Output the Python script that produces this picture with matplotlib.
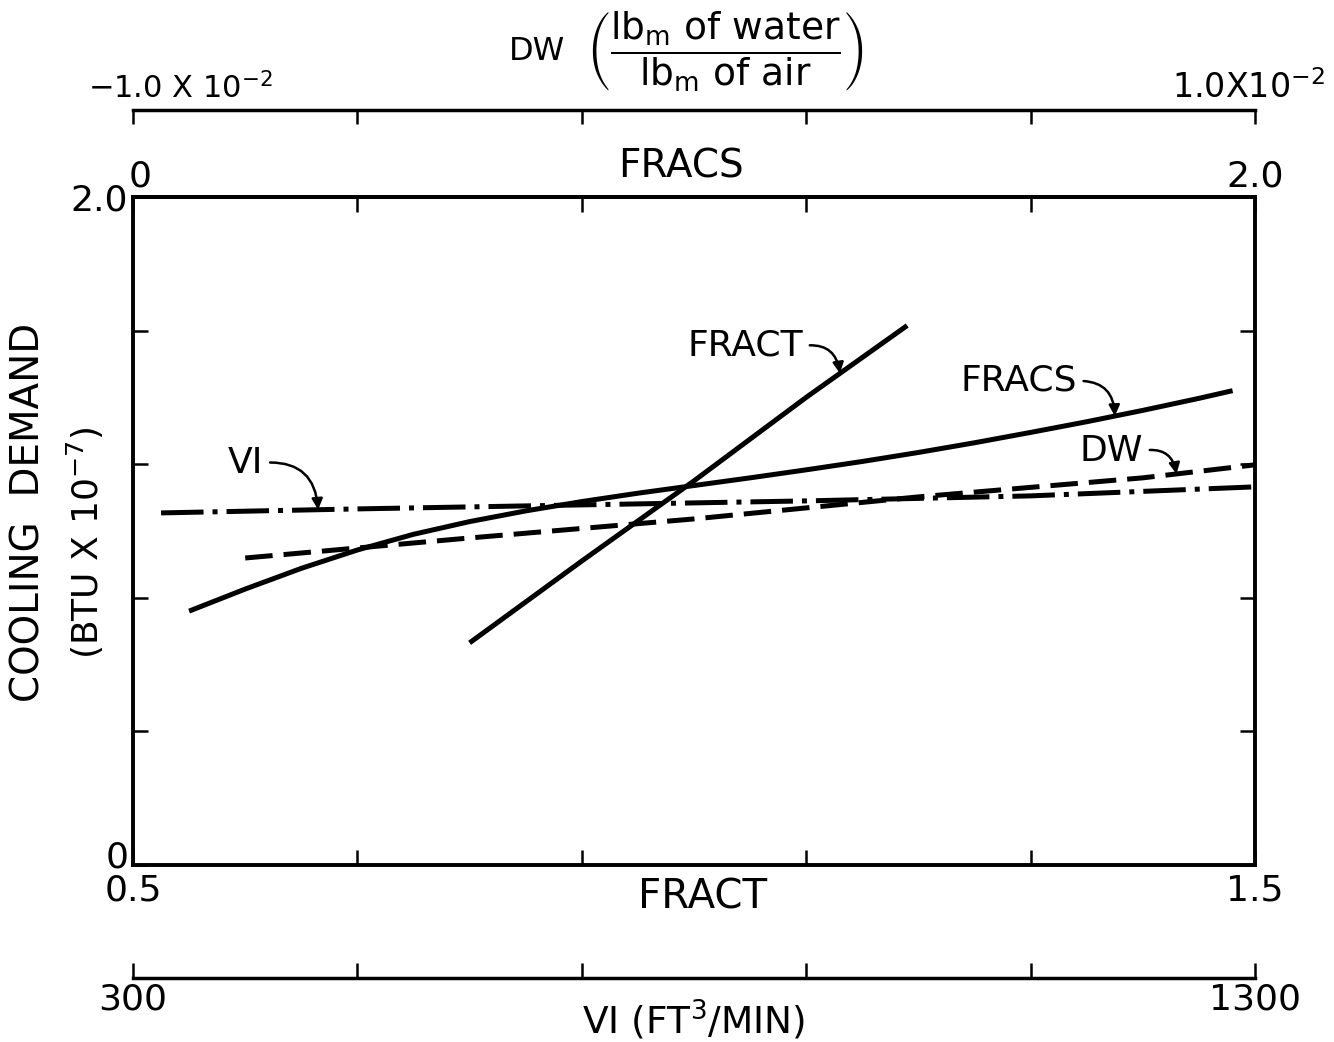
import numpy as np
import matplotlib
matplotlib.use('Agg')
import matplotlib.pyplot as plt
from matplotlib.transforms import ScaledTranslation

plt.rcParams['font.family'] = ['DejaVu Sans']
plt.rcParams['mathtext.fontset'] = 'dejavusans'

# 每条曲线用各自的横轴单位记录
# FRACT (底部主轴 0.5 - 1.5)
fract_x = [0.80, 0.90, 1.00, 1.10, 1.19]
fract_y = [0.665, 0.91, 1.15, 1.40, 1.615]

# FRACS (顶部轴 0 - 2.0)
fracs_x = [0.1, 0.2, 0.3, 0.4, 0.5, 0.6, 0.7, 0.8, 0.9, 1.0,
           1.1, 1.2, 1.3, 1.4, 1.5, 1.6, 1.7, 1.8, 1.9, 1.96]
fracs_y = [0.760, 0.826, 0.888, 0.943, 0.990, 1.028, 1.060, 1.088, 1.113, 1.136,
           1.159, 1.183, 1.208, 1.235, 1.264, 1.295, 1.327, 1.361, 1.397, 1.420]

# DW (lbm of water / lbm of air)
dw_x = [-0.008, -0.004, 0.0, 0.004, 0.008, 0.010]
dw_y = [0.919, 0.979, 1.036, 1.102, 1.159, 1.198]

# VI (ft^3/min)
vi_x = [325, 500, 700, 900, 1100, 1300]
vi_y = [1.054, 1.066, 1.078, 1.090, 1.105, 1.132]

fract_ticks = [0.5, 0.7, 0.9, 1.1, 1.3, 1.5]
fracs_ticks = [0, 0.4, 0.8, 1.2, 1.6, 2.0]
dw_ticks = [-0.01, -0.006, -0.002, 0.002, 0.006, 0.01]
vi_ticks = [300, 500, 700, 900, 1100, 1300]
y_ticks = [0, 0.4, 0.8, 1.2, 1.6, 2.0]


# 各副轴与 FRACT 主轴之间的线性换算
def fracs_to_fract(s):
    return 0.5 + np.asarray(s) / 2.0

def fract_to_fracs(f):
    return (np.asarray(f) - 0.5) * 2.0

def dw_to_fract(d):
    return 0.5 + (np.asarray(d) + 0.01) * 50.0

def fract_to_dw(f):
    return (np.asarray(f) - 0.5) / 50.0 - 0.01

def vi_to_fract(v):
    return 0.5 + (np.asarray(v) - 300.0) / 1000.0

def fract_to_vi(f):
    return (np.asarray(f) - 0.5) * 1000.0 + 300.0


fig = plt.figure(figsize=(13.34, 10.42), dpi=100)
ax = fig.add_axes([0.0997, 0.1699, 0.8411, 0.6411])

lw = 3.6
ax.plot(fract_x, fract_y, color='k', lw=lw, solid_capstyle='butt')
ax.plot(fracs_to_fract(fracs_x), fracs_y, color='k', lw=lw, solid_capstyle='butt',
        solid_joinstyle='round')
ax.plot(dw_to_fract(dw_x), dw_y, color='k', lw=lw, dashes=(5.5, 2.2))
ax.plot(vi_to_fract(vi_x), vi_y, color='k', lw=lw, dashes=(8.5, 1.8, 1.0, 1.8))

ax.set_xlim(0.5, 1.5)
ax.set_ylim(0, 2.0)
for sp in ax.spines.values():
    sp.set_linewidth(2.8)

ax.set_xticks(fract_ticks)
ax.set_xticklabels(['0.5', '', '', '', '', '1.5'])
ax.set_yticks(y_ticks)
ax.set_yticklabels(['0', '', '', '', '', '2.0'])
ax.tick_params(direction='in', length=11, width=1.8, labelsize=26, pad=3.5,
               top=False, right=True)
ax.tick_params(axis='x', pad=6)
# 纵轴的 "0" 稍微上移，避免和 0.5 挤在一起
lab0 = ax.get_yticklabels()[0]
lab0.set_transform(lab0.get_transform() + ScaledTranslation(0, 8 / 72, fig.dpi_scale_trans))

# 顶部 FRACS 轴
sec_fracs = ax.secondary_xaxis('top', functions=(fract_to_fracs, fracs_to_fract))
sec_fracs.set_xticks(fracs_ticks)
sec_fracs.set_xticklabels(['0', '', '', '', '', '2.0'])
sec_fracs.tick_params(direction='in', length=11, width=1.8, labelsize=26, pad=2.5)
sec_fracs.spines['top'].set_linewidth(2.8)
labf = sec_fracs.get_xticklabels()[0]
labf.set_transform(labf.get_transform() + ScaledTranslation(5 / 72, 0, fig.dpi_scale_trans))

# 最上方 DW 轴
sec_dw = ax.secondary_xaxis(1.1302, functions=(fract_to_dw, dw_to_fract))
sec_dw.set_xticks(dw_ticks)
sec_dw.set_xticklabels([''] * len(dw_ticks))
sec_dw.tick_params(direction='in', length=10, width=1.8)
sec_dw.spines['top'].set_linewidth(2.5)
sec_dw.spines['bottom'].set_visible(False)

# 最下方 VI 轴
sec_vi = ax.secondary_xaxis(-0.1692, functions=(fract_to_vi, vi_to_fract))
sec_vi.set_xticks(vi_ticks)
sec_vi.set_xticklabels(['300', '', '', '', '', '1300'])
sec_vi.tick_params(direction='in', length=11, width=1.8, labelsize=26, pad=3.5)
sec_vi.spines['bottom'].set_linewidth(2.5)
sec_vi.spines['top'].set_visible(False)

# 轴标题
ax.text(0.488, 1.046, 'FRACS', transform=ax.transAxes, ha='center', va='center', fontsize=28)
ax.text(0.508, -0.048, 'FRACT', transform=ax.transAxes, ha='center', va='center', fontsize=29)
ax.text(0.50, -0.232, 'VI (FT$^3$/MIN)', transform=ax.transAxes, ha='center', va='center',
        fontsize=27)
ax.text(0.360, 1.217, 'DW', transform=ax.transAxes, ha='center', va='center', fontsize=23)
ax.text(0.527, 1.217, r'$\left(\dfrac{\mathrm{lb_m\ of\ water}}{\mathrm{lb_m\ of\ air}}\right)$',
        transform=ax.transAxes, ha='center', va='center', fontsize=27)
ax.text(-0.040, 1.148, '\u22121.0 X 10$^{-2}$', transform=ax.transAxes,
        ha='left', va='baseline', fontsize=22)
ax.text(0.994, 1.148, '1.0X10$^{-2}$', transform=ax.transAxes,
        ha='center', va='baseline', fontsize=24)

ax.text(-0.0927, 0.528, 'COOLING  DEMAND', transform=ax.transAxes, rotation=90,
        ha='center', va='center', fontsize=28)
ax.text(-0.0428, 0.482, '(BTU X 10$^{-7}$)', transform=ax.transAxes, rotation=90,
        ha='center', va='center', fontsize=26)

# 曲线标注及弯箭头
arrow = dict(arrowstyle='-|>', connectionstyle='arc3,rad=-0.5', relpos=(1.0, 0.5),
             color='k', lw=1.8, shrinkA=3, shrinkB=0, mutation_scale=16)

tip = 1.13
ax.annotate('FRACT', xy=(tip, np.interp(tip, fract_x, fract_y)), xytext=(1.097, 1.554),
            ha='right', va='center', fontsize=26, arrowprops=arrow)
tip = 1.75
ax.annotate('FRACS', xy=(fracs_to_fract(tip), np.interp(tip, fracs_x, fracs_y)),
            xytext=(1.341, 1.449), ha='right', va='center', fontsize=26, arrowprops=arrow)
tip = 0.0086
ax.annotate('DW', xy=(dw_to_fract(tip), np.interp(tip, dw_x, dw_y)),
            xytext=(1.400, 1.240), ha='right', va='center', fontsize=26, arrowprops=arrow)
tip = 465
ax.annotate('VI', xy=(vi_to_fract(tip), np.interp(tip, vi_x, vi_y)),
            xytext=(0.616, 1.204), ha='right', va='center', fontsize=26, arrowprops=arrow)

plt.savefig('out.png', dpi=100)
